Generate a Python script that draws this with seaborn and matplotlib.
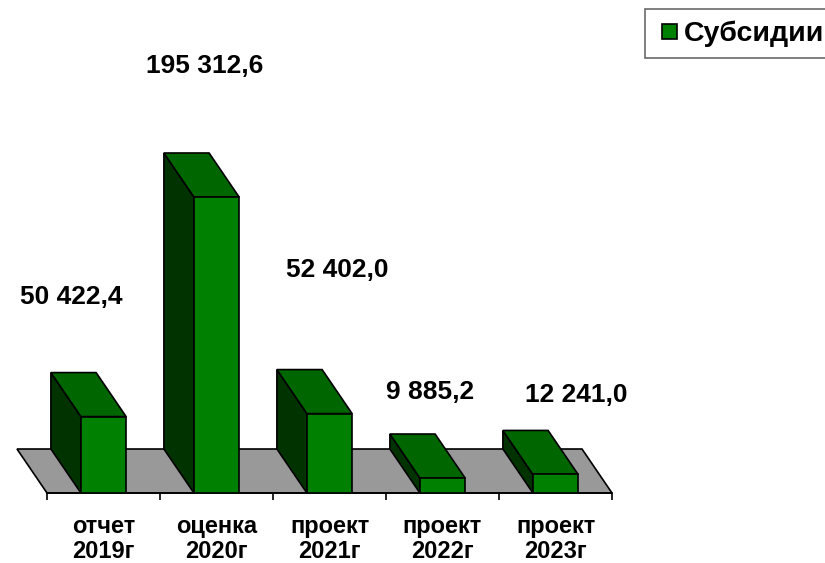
import matplotlib
matplotlib.use("Agg")
import matplotlib.pyplot as plt
import seaborn as sns
import pandas as pd
from matplotlib.patches import Polygon
from matplotlib.lines import Line2D

# ---- data ----
categories = ["отчет\n2019г", "оценка\n2020г", "проект\n2021г", "проект\n2022г", "проект\n2023г"]
values = [50422.4, 195312.6, 52402.0, 9885.2, 12241.0]
series_name = "Субсидии"
# label offsets (pixels) from the top-centre of each bar's front face
label_offsets = [(-32, 120), (-12, 131), (8, 144), (-12, 86), (21, 79)]

sns.set_theme(style="white")
plt.rcParams["font.family"] = ["Liberation Sans", "DejaVu Sans"]
plt.rcParams["font.weight"] = "bold"
plt.rcParams["text.color"] = "black"

W, H, DPI = 825, 563, 100
fig = plt.figure(figsize=(W / DPI, H / DPI), dpi=DPI)

ax_left_px, ax_bottom_px, ax_w_px, ax_h_px = 47, 70, 565, 493
ax = fig.add_axes([ax_left_px / W, ax_bottom_px / H, ax_w_px / W, ax_h_px / H])
ax.set_facecolor("none")

FRONT = "#008000"
TOP = "#006600"
SIDE = "#003300"
FLOOR = "#999999"
LW = 1.2

df = pd.DataFrame({"cat": categories, "val": values})
sns.barplot(data=df, x="cat", y="val", color=FRONT, saturation=1, width=0.4,
            edgecolor="black", linewidth=LW, ax=ax)

xmin, xmax = -0.5, 4.5
ymax = values[1] * ax_h_px / 296.0
ax.set_xlim(xmin, xmax)
ax.set_ylim(0, ymax)

# depth offset (pixels -> data)
dpx, dpy = -30, 44
dx = dpx * (xmax - xmin) / ax_w_px
dy = dpy * ymax / ax_h_px

# floor
floor = Polygon([(xmin, 0), (xmax, 0), (xmax + dx, dy), (xmin + dx, dy)],
                closed=True, facecolor=FLOOR, edgecolor="black", lw=LW, zorder=1,
                clip_on=False)
ax.add_patch(floor)

for p in list(ax.patches):
    if p is floor:
        continue
    x0 = p.get_x()
    w = p.get_width()
    h = p.get_height()
    x1 = x0 + w
    p.set_zorder(4)
    side = Polygon([(x0, 0), (x0, h), (x0 + dx, h + dy), (x0 + dx, dy)],
                   closed=True, facecolor=SIDE, edgecolor="black", lw=LW, zorder=3,
                   joinstyle="miter", clip_on=False)
    top = Polygon([(x0, h), (x1, h), (x1 + dx, h + dy), (x0 + dx, h + dy)],
                  closed=True, facecolor=TOP, edgecolor="black", lw=LW, zorder=3,
                  joinstyle="miter", clip_on=False)
    ax.add_patch(side)
    ax.add_patch(top)

def fmt(v):
    s = f"{v:,.1f}"
    return s.replace(",", " ").replace(".", ",")

for i, (v, off) in enumerate(zip(values, label_offsets)):
    ax.annotate(fmt(v), xy=(i, v), xytext=off, textcoords="offset pixels",
                ha="center", va="center", fontsize=19, fontweight="bold",
                color="black", zorder=5)

# axes styling
for s in ["top", "right", "left"]:
    ax.spines[s].set_visible(False)
ax.spines["bottom"].set_color("black")
ax.spines["bottom"].set_linewidth(LW)
ax.spines["bottom"].set_zorder(2)
ax.set_yticks([])
ax.set_xlabel("")
ax.set_ylabel("")
ax.set_xticks(range(len(categories)))
ax.set_xticklabels(categories, fontsize=17, fontweight="bold", color="black",
                   linespacing=1.12)
ax.set_xticks([xmin + k for k in range(len(categories) + 1)], minor=True)
ax.tick_params(axis="x", which="major", length=0, pad=16)
ax.tick_params(axis="x", which="minor", length=5, width=LW, color="black",
               direction="out", bottom=True)

# legend
handle = Line2D([], [], linestyle="none", marker="s", markersize=10.8,
                markerfacecolor=FRONT, markeredgecolor="black", markeredgewidth=1.2)
leg = fig.legend([handle], [series_name], loc="upper left",
                 bbox_to_anchor=(645 / W, 1 - 9 / H), frameon=True, fancybox=False,
                 prop={"size": 20.5, "weight": "bold", "family": "Liberation Sans"},
                 handlelength=0.9, handletextpad=0.05,
                 borderpad=0.4, borderaxespad=0, labelcolor="black")
leg.get_frame().set_edgecolor("#444444")
leg.get_frame().set_linewidth(1.2)

fig.savefig("out.png", dpi=DPI)
